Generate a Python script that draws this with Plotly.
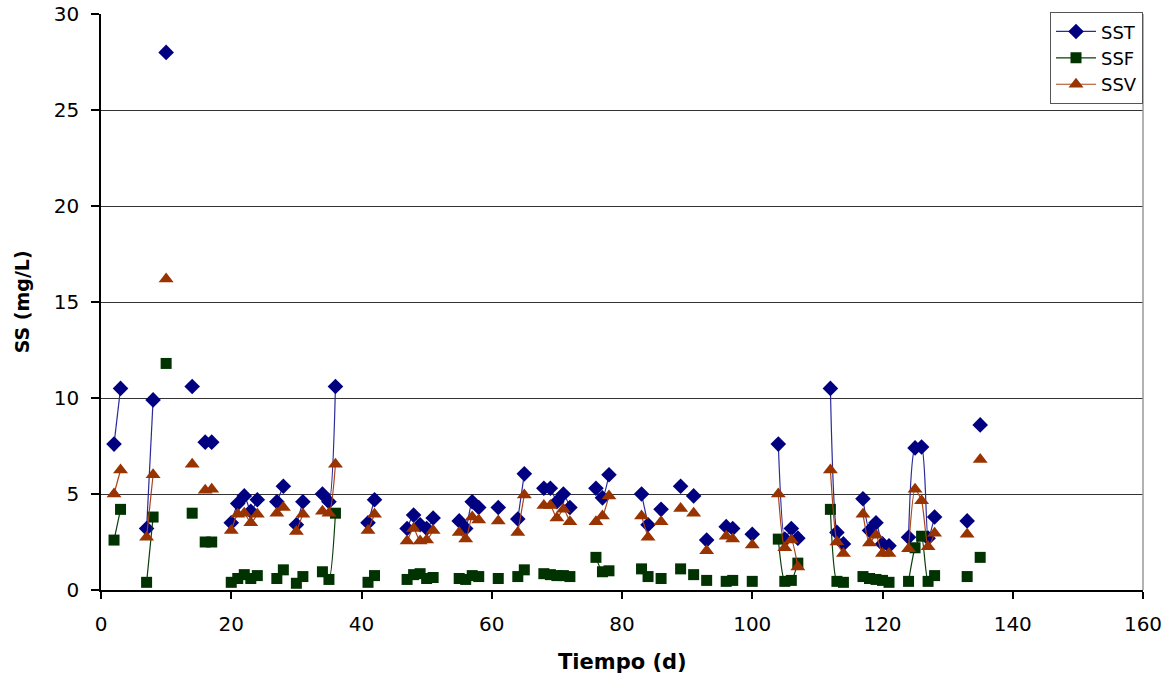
import plotly.graph_objects as go

days = [2, 3, 7, 8, 10, 14, 16, 17, 20, 21, 22, 23, 24, 27, 28, 30, 31, 34, 35, 36,
        41, 42, 47, 48, 49, 50, 51, 55, 56, 57, 58, 61, 64, 65, 68, 69, 70, 71, 72,
        76, 77, 78, 83, 84, 86, 89, 91, 93, 96, 97, 100, 104, 105, 106, 107,
        112, 113, 114, 117, 118, 119, 120, 121, 124, 125, 126, 127, 128, 133, 135]

sst = [7.6, 10.5, 3.2, 9.9, 28.0, 10.6, 7.7, 7.7, 3.5, 4.5, 4.9, 4.1, 4.7, 4.6, 5.4, 3.4, 4.6, 5.0, 4.6, 10.6,
       3.5, 4.7, 3.2, 3.9, 3.4, 3.2, 3.75, 3.6, 3.2, 4.6, 4.3, 4.3, 3.7, 6.05, 5.3, 5.3, 4.6, 5.0, 4.3,
       5.3, 4.8, 6.0, 5.0, 3.4, 4.2, 5.4, 4.9, 2.6, 3.3, 3.2, 2.9, 7.6, 2.65, 3.2, 2.7,
       10.5, 3.0, 2.4, 4.75, 3.1, 3.5, 2.4, 2.3, 2.75, 7.4, 7.45, 2.7, 3.8, 3.6, 8.6]

ssf = [2.6, 4.2, 0.4, 3.8, 11.8, 4.0, 2.5, 2.5, 0.4, 0.6, 0.8, 0.6, 0.75, 0.6, 1.05, 0.35, 0.7, 0.95, 0.55, 4.0,
       0.4, 0.75, 0.55, 0.8, 0.85, 0.6, 0.65, 0.6, 0.55, 0.75, 0.7, 0.6, 0.7, 1.05, 0.85, 0.8, 0.75, 0.75, 0.7,
       1.7, 0.95, 1.0, 1.1, 0.7, 0.6, 1.1, 0.8, 0.5, 0.45, 0.5, 0.45, 2.65, 0.45, 0.5, 1.4,
       4.2, 0.45, 0.4, 0.7, 0.6, 0.55, 0.5, 0.4, 0.45, 2.2, 2.8, 0.45, 0.75, 0.7, 1.7]

ssv = [5.0, 6.25, 2.75, 6.0, 16.2, 6.55, 5.2, 5.25, 3.1, 3.95, 4.0, 3.5, 3.95, 4.0, 4.3, 3.05, 3.95, 4.1, 4.0, 6.55,
       3.1, 3.95, 2.55, 3.2, 2.55, 2.6, 3.1, 3.0, 2.65, 3.8, 3.65, 3.6, 3.0, 4.95, 4.4, 4.4, 3.75, 4.2, 3.55,
       3.55, 3.85, 4.9, 3.85, 2.75, 3.55, 4.25, 4.0, 2.05, 2.8, 2.65, 2.35, 5.0, 2.2, 2.6, 1.2,
       6.25, 2.5, 1.9, 3.95, 2.45, 2.85, 1.9, 1.9, 2.15, 5.25, 4.65, 2.25, 2.95, 2.9, 6.8]

x_ticks = [0, 20, 40, 60, 80, 100, 120, 140, 160]
y_ticks = [0, 5, 10, 15, 20, 25, 30]


def with_gaps(xs, ys):
    """Break the line wherever consecutive samples are more than one day apart."""
    gx, gy = [], []
    for i, (a, b) in enumerate(zip(xs, ys)):
        if i > 0 and a - xs[i - 1] > 1:
            gx.append(None)
            gy.append(None)
        gx.append(a)
        gy.append(b)
    return gx, gy


FONT = "DejaVu Sans, Liberation Sans, Arial, sans-serif"

series = [
    ("SST", sst, "#000080", "#2a2a9a", "diamond", 12),
    ("SSF", ssf, "#003300", "#0b3d0b", "square", 11),
    ("SSV", ssv, "#993300", "#a9441a", "triangle-up", 13),
]

fig = go.Figure()
for name, vals, mcol, lcol, sym, size in series:
    gx, gy = with_gaps(days, vals)
    fig.add_trace(go.Scatter(
        x=gx, y=gy, name=name, mode="lines+markers",
        line=dict(color=lcol, width=1.2, shape="spline", smoothing=0.6),
        marker=dict(symbol=sym, size=size, color=mcol, line=dict(width=0)),
        connectgaps=False,
    ))

fig.update_layout(
    width=1175, height=679,
    margin=dict(l=101, r=32, t=14, b=89, autoexpand=False),
    paper_bgcolor="white", plot_bgcolor="white",
    font=dict(family=FONT, size=20, color="black"),
    showlegend=True,
    legend=dict(
        x=1.0, y=1.003, xanchor="right", yanchor="top",
        bgcolor="white", bordercolor="#555555", borderwidth=1,
        font=dict(family=FONT, size=18, color="black"),
        itemwidth=40, tracegroupgap=0,
    ),
)

fig.update_xaxes(
    range=[0, 160], tickvals=x_ticks, ticktext=[str(v) for v in x_ticks],
    showgrid=False, zeroline=False, automargin=False,
    showline=True, linecolor="black", linewidth=1.5,
    ticks="outside", ticklen=7, tickcolor="black", tickwidth=1.5,
    tickfont=dict(family=FONT, size=20),
    ticklabelstandoff=8,
)
fig.update_yaxes(
    range=[0, 30], tickvals=y_ticks, ticktext=[str(v) for v in y_ticks],
    showgrid=True, gridcolor="#333333", gridwidth=1,
    zeroline=False, automargin=False,
    showline=True, linecolor="black", linewidth=1.5,
    ticks="outside", ticklen=8, tickcolor="black", tickwidth=1.5,
    tickfont=dict(family=FONT, size=20),
    ticklabelstandoff=8,
)

# right plot-area border (gray)
fig.add_shape(type="line", xref="paper", yref="paper", x0=1, x1=1, y0=0, y1=1,
              line=dict(color="#999999", width=1.5))

fig.add_annotation(text="<b>Tiempo (d)</b>", xref="paper", yref="paper",
                   x=0.5, y=-0.125, yanchor="middle", showarrow=False,
                   font=dict(family=FONT, size=21, color="black"))
fig.add_annotation(text="<b>SS (mg/L)</b>", xref="paper", yref="paper",
                   x=-0.0755, y=0.5, xanchor="center", yanchor="middle", textangle=-90,
                   showarrow=False, font=dict(family=FONT, size=19, color="black"))

fig.write_html("out.html", config={"displayModeBar": False},
               post_script="document.body.style.margin='0';")
